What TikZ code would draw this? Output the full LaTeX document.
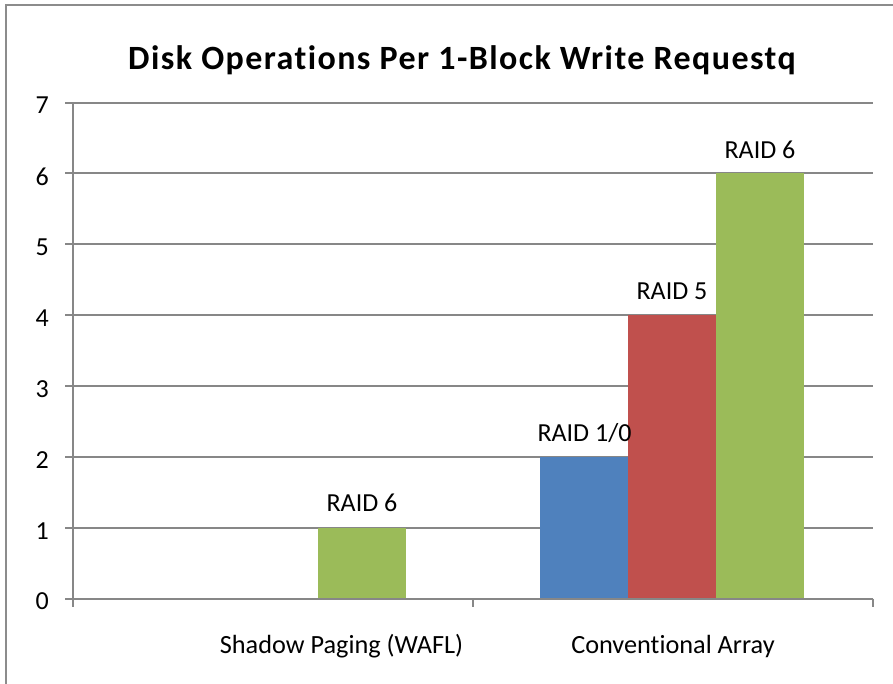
\documentclass[tikz,border=0pt]{standalone}
\usepackage{fontspec}
\setmainfont{Carlito}[Ligatures=NoCommon]
\newfontfamily\titlefont{Carlito}[Ligatures=NoCommon, LetterSpace=4.2]
\definecolor{gridgray}{HTML}{878787}
\definecolor{framegray}{HTML}{8C8C8C}
\definecolor{barblue}{HTML}{4F81BD}
\definecolor{barred}{HTML}{C0504D}
\definecolor{bargreen}{HTML}{9BBB59}
\tikzset{
  gridline/.style={draw=gridgray, line width=1.5pt},
  axisline/.style={draw=gridgray, line width=1.5pt},
  frameline/.style={draw=framegray, line width=1.6pt},
  ticklabel/.style={anchor=east, inner sep=0pt, font=\fontsize{19.5pt}{22pt}\selectfont},
  catlabel/.style={anchor=base, inner sep=0pt, font=\fontsize{19.7pt}{22pt}\selectfont},
  barlabel/.style={anchor=base, inner sep=0pt, font=\fontsize{19.5pt}{22pt}\selectfont},
  titlelabel/.style={anchor=base, inner sep=0pt, font=\titlefont\fontsize{25.5pt}{28pt}\selectfont\bfseries},
}
\begin{document}
\begin{tikzpicture}[x=0.75pt, y=-0.75pt]
\useasboundingbox (0,0) rectangle (893,683);
\begin{scope}
\clip (0,0) rectangle (893,683);
% chart frame (continues past the right and bottom edges)
\draw[frameline] (6,5) rectangle (920,720);
\end{scope}

% horizontal gridlines with their tick marks, values 1..7
\foreach \v in {1,...,7} {
  \pgfmathsetmacro{\yy}{598.5-70.857*\v}
  \draw[gridline] (65,\yy) -- (873,\yy);
  \node[ticklabel] (tick\v) at (49,\yy+3) {\v};
}
\node[ticklabel] (tick0) at (49,601.5) {0};

% bars
\fill[bargreen] (318,598.5) rectangle (406,527.6);
\fill[barblue]  (540,598.5) rectangle (628,456.8);
\fill[barred]   (628,598.5) rectangle (716,315.1);
\fill[bargreen] (716,598.5) rectangle (804,173.4);

% axes
\coordinate (yaxtop) at (72.7,102.5);
\coordinate (origin) at (72.7,598.5);
\coordinate (xaxend) at (873,598.5);
\draw[axisline] (yaxtop) -- (72.7,606.5);
\draw[axisline] (65,598.5) -- (xaxend);
\draw[axisline] (472.7,598.5) -- (472.7,606.5);
\draw[axisline] (873,598.5) -- (873,606.5);

% bar value labels
\node[barlabel] (lblA) at (362,511.5) {RAID 6};
\node[barlabel] (lblB) at (584.5,441) {RAID 1/0};
\node[barlabel] (lblC) at (672,299.5) {RAID 5};
\node[barlabel] (lblD) at (760,158) {RAID 6};

% category labels
\node[catlabel] (catA) at (341.5,653) {Shadow Paging (WAFL)};
\node[catlabel] (catB) at (673,653) {Conventional Array};

% title
\node[titlelabel] (title) at (462,69) {Disk Operations Per 1-Block Write Requestq};
\end{tikzpicture}
\end{document}
